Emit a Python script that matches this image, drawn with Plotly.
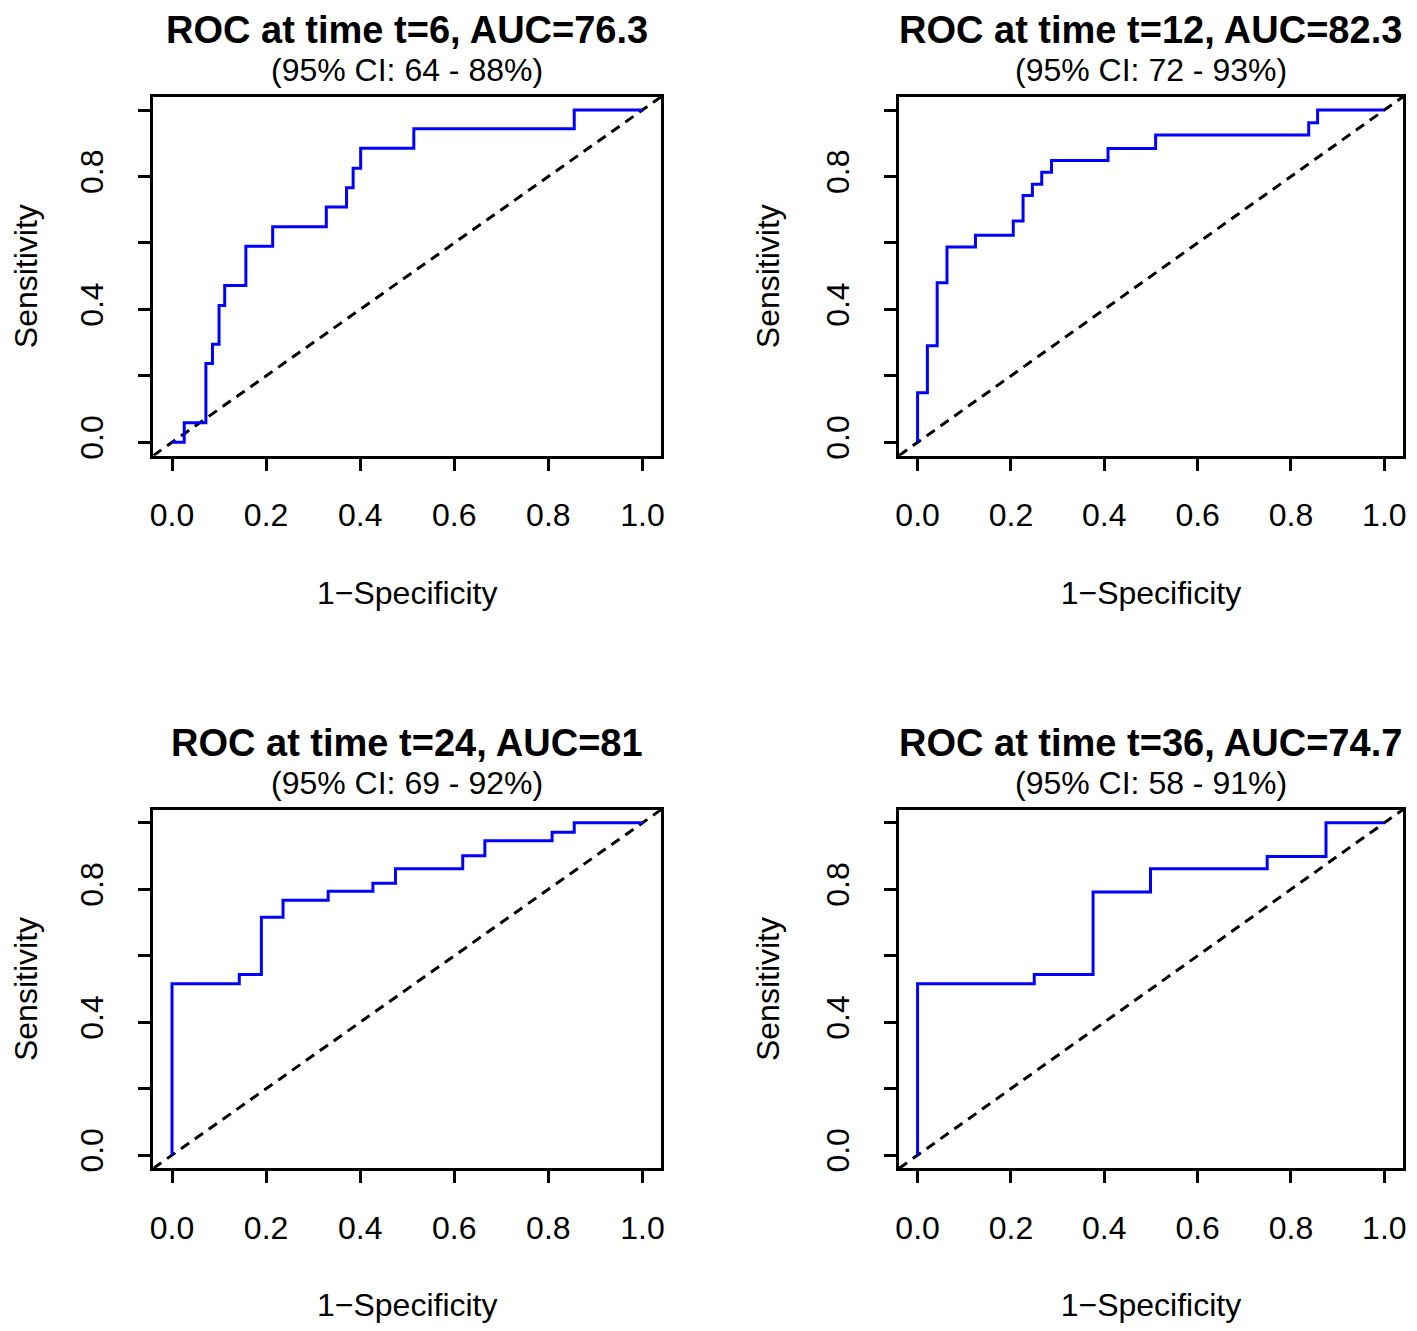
import plotly.graph_objects as go

# ---- data ----
titles = ["ROC at time t=6, AUC=76.3", "ROC at time t=12, AUC=82.3",
          "ROC at time t=24, AUC=81", "ROC at time t=36, AUC=74.7"]
subtitles = ["(95% CI: 64 - 88%)", "(95% CI: 72 - 93%)",
             "(95% CI: 69 - 92%)", "(95% CI: 58 - 91%)"]

fpr_t6 = [0, 0.026, 0.072, 0.086, 0.100, 0.112, 0.157, 0.214, 0.328, 0.371, 0.385, 0.401, 0.514, 0.855, 1.0]
tpr_t6 = [0, 0.059, 0.237, 0.295, 0.412, 0.472, 0.590, 0.649, 0.708, 0.766, 0.825, 0.885, 0.944, 1.0, 1.0]

fpr_t12 = [0, 0, 0.021, 0.042, 0.063, 0.124, 0.205, 0.226, 0.246, 0.266, 0.287, 0.408, 0.510, 0.838, 0.857, 1.0]
tpr_t12 = [0, 0.149, 0.291, 0.480, 0.588, 0.623, 0.666, 0.743, 0.777, 0.813, 0.848, 0.884, 0.925, 0.962, 1.0, 1.0]

fpr_t24 = [0, 0, 0.143, 0.190, 0.236, 0.332, 0.427, 0.475, 0.618, 0.665, 0.808, 0.855, 1.0]
tpr_t24 = [0, 0.516, 0.544, 0.716, 0.767, 0.794, 0.818, 0.862, 0.901, 0.946, 0.972, 1.0, 1.0]

fpr_t36 = [0, 0, 0.250, 0.376, 0.499, 0.749, 0.875, 1.0]
tpr_t36 = [0, 0.516, 0.544, 0.792, 0.862, 0.899, 1.0, 1.0]

diag = [-0.04, 1.04]
tick_vals = [0, 0.2, 0.4, 0.6, 0.8, 1.0]
x_tick_text = ["0.0", "0.2", "0.4", "0.6", "0.8", "1.0"]
y_tick_text = ["0.0", "", "0.4", "", "0.8", ""]

curves = [(fpr_t6, tpr_t6), (fpr_t12, tpr_t12), (fpr_t24, tpr_t24), (fpr_t36, tpr_t36)]

# ---- layout (reference pixels, page has an 8px body margin) ----
OFF = 8
W, H = 1417 - 2 * OFF, 1331 - 2 * OFF
xdoms = [(150, 661), (900, 1407)]
ydoms = [(97, 457), (812, 1172)]
ytitle_standoff = [43, 31]


def px_x(v):
    return (v - OFF) / W


def px_y(v):
    return 1 - (v - OFF) / H


FONT = "Liberation Sans, Arial, sans-serif"
fig = go.Figure()
annotations = []
for i, (fx, ty) in enumerate(curves):
    col = i % 2
    row = i // 2
    n = i + 1
    xa = "x" if n == 1 else f"x{n}"
    ya = "y" if n == 1 else f"y{n}"
    fig.add_trace(go.Scatter(x=diag, y=diag, mode="lines", xaxis=xa, yaxis=ya,
                             line=dict(color="black", width=3, dash="10px,7px"),
                             showlegend=False, hoverinfo="skip"))
    fig.add_trace(go.Scatter(x=fx, y=ty, mode="lines", xaxis=xa, yaxis=ya,
                             line=dict(color="#0000FF", width=3, shape="hv"),
                             showlegend=False))
    x0, x1 = xdoms[col]
    y0, y1 = ydoms[row]
    axis_common = dict(range=[-0.04, 1.04], showgrid=False, zeroline=False,
                       showline=True, linecolor="black", linewidth=3, mirror=True,
                       ticks="outside", ticklen=12, tickwidth=3, tickcolor="black",
                       tickvals=tick_vals,
                       tickfont=dict(family=FONT, size=32, color="black"))
    xkey = "xaxis" if n == 1 else f"xaxis{n}"
    ykey = "yaxis" if n == 1 else f"yaxis{n}"
    fig.update_layout(**{
        xkey: dict(axis_common, domain=[px_x(x0), px_x(x1)], anchor=ya,
                   ticktext=x_tick_text, ticklabelstandoff=17,
                   title=dict(text="1\u2212Specificity", standoff=50,
                              font=dict(family=FONT, size=32, color="black"))),
        ykey: dict(axis_common, domain=[px_y(y1), px_y(y0)], anchor=xa,
                   ticktext=y_tick_text, tickangle=-90, ticklabelstandoff=22,
                   title=dict(text="Sensitivity", standoff=ytitle_standoff[col],
                              font=dict(family=FONT, size=32, color="black"))),
    })
    cx = px_x((x0 + x1) / 2)
    annotations.append(dict(text="<b>" + titles[i] + "</b>", x=cx, y=px_y(y0 - 67),
                            xref="paper", yref="paper", xanchor="center", yanchor="middle",
                            showarrow=False, font=dict(family=FONT, size=38, color="black")))
    annotations.append(dict(text=subtitles[i], x=cx, y=px_y(y0 - 27),
                            xref="paper", yref="paper", xanchor="center", yanchor="middle",
                            showarrow=False, font=dict(family=FONT, size=32, color="black")))

fig.update_layout(width=W, height=H, margin=dict(l=0, r=0, t=0, b=0),
                  paper_bgcolor="white", plot_bgcolor="white",
                  annotations=annotations, showlegend=False)
fig.write_html("out.html")
